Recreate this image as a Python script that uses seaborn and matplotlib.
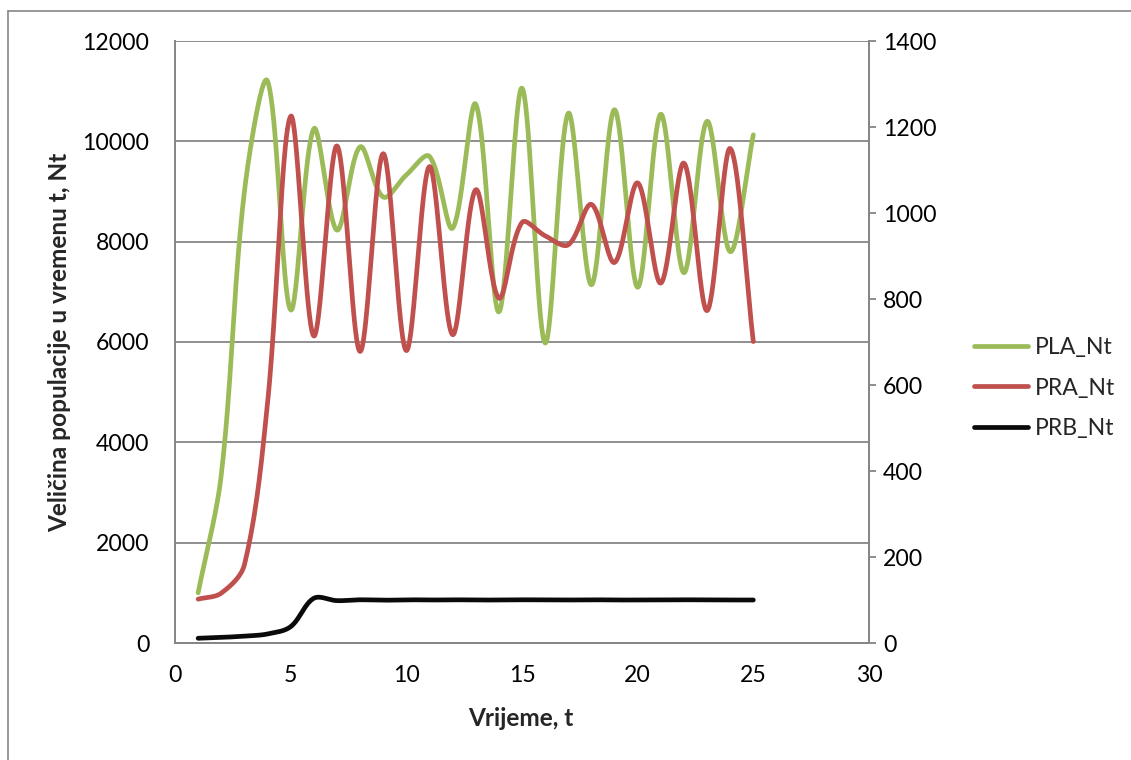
import numpy as np
import pandas as pd
import matplotlib
matplotlib.use("Agg")
import matplotlib.pyplot as plt
import seaborn as sns
from matplotlib.lines import Line2D

# ---- data ----
t = list(range(1, 26))
pla_nt = [1000, 3350, 9000, 11200, 6640, 10250, 8230, 9890, 8890, 9330,
          9700, 8270, 10740, 6600, 11060, 5980, 10560, 7140, 10630, 7090,
          10540, 7380, 10400, 7800, 10130]
pra_nt = [102, 116, 182, 558, 1225, 714, 1156, 678, 1138, 680,
          1108, 717, 1054, 802, 978, 947, 926, 1020, 885, 1070,
          837, 1116, 773, 1150, 701]
prb_nt = [11, 13, 16, 21, 38, 104, 98.5, 100.5, 99.5, 100.5,
          100, 100.5, 100, 100, 100.5, 100, 100, 100.5, 100, 100,
          100, 100.5, 100, 100, 100]
series_names = ["PLA_Nt", "PRA_Nt", "PRB_Nt"]
series_colors = ["#9BBB59", "#C0504D", "#0a0a0a"]
left_ticks = list(range(0, 12001, 2000))
right_ticks = list(range(0, 1401, 200))
x_ticks = list(range(0, 31, 5))
x_label = "Vrijeme, t"
y_label = "Veličina populacije u vremenu t, Nt"

W, H = 1131, 760
L, R, T, B = 175, 869, 41, 643


def smooth(x, y, sx, sy, n=40):
    """Excel-like smoothed line for display: Bezier segments whose control
    points are scaled by segment lengths measured in screen space."""
    P = np.column_stack([np.asarray(x, float) * sx, np.asarray(y, float) * sy])
    m = len(P)
    seg = np.hypot(*np.diff(P, axis=0).T)
    cout = np.zeros_like(P)
    cin = np.zeros_like(P)
    for i in range(m):
        prev = P[i - 1] if i > 0 else P[i]
        nxt = P[i + 1] if i < m - 1 else P[i]
        d = nxt - prev
        lp = seg[i - 1] if i > 0 else 0.0
        ln = seg[i] if i < m - 1 else 0.0
        tot = lp + ln if lp + ln > 0 else 1.0
        cout[i] = P[i] + d * (ln / tot) / 3.0
        cin[i] = P[i] - d * (lp / tot) / 3.0
    s = np.linspace(0, 1, n, endpoint=False)[:, None]
    out = []
    for i in range(m - 1):
        p1, c1, c2, p2 = P[i], cout[i], cin[i + 1], P[i + 1]
        out.append(((1 - s) ** 3) * p1 + 3 * ((1 - s) ** 2) * s * c1
                   + 3 * (1 - s) * s ** 2 * c2 + s ** 3 * p2)
    out.append(P[-1][None, :])
    arr = np.vstack(out)
    return pd.DataFrame({"t": arr[:, 0] / sx, "v": arr[:, 1] / sy})


sns.set_theme(style="white")
plt.rcParams["font.family"] = ["Lato", "DejaVu Sans"]

fig = plt.figure(figsize=(W / 100, H / 100), dpi=100)
ax = fig.add_axes([L / W, 1 - B / H, (R - L) / W, (B - T) / H])
ax2 = ax.twinx()

grid_c = "#868686"
fs = 16.6
fs_title = 17.6
lw = 3.4

x_min, x_max, yl_max, yr_max = 0, 30, 12000, 1400
sx = (R - L) / (x_max - x_min)
syl = (B - T) / yl_max
syr = (B - T) / yr_max

sns.lineplot(data=smooth(t, pla_nt, sx, syl), x="t", y="v", ax=ax,
             color=series_colors[0], lw=lw, sort=False, estimator=None,
             solid_capstyle="round")
sns.lineplot(data=smooth(t, pra_nt, sx, syr), x="t", y="v", ax=ax2,
             color=series_colors[1], lw=lw, sort=False, estimator=None,
             solid_capstyle="round")
sns.lineplot(data=smooth(t, prb_nt, sx, syr), x="t", y="v", ax=ax2,
             color=series_colors[2], lw=lw, sort=False, estimator=None,
             solid_capstyle="round")

ax.set_xlim(x_min, x_max)
ax.set_ylim(0, yl_max)
ax2.set_ylim(0, yr_max)
ax.set_xticks(x_ticks)
ax.set_yticks(left_ticks)
ax2.set_yticks(right_ticks)
ax.set_xlabel("")
ax.set_ylabel("")
ax2.set_ylabel("")

ax.yaxis.grid(True, color=grid_c, lw=1.3)
ax.xaxis.grid(False)
ax.set_axisbelow(True)
for a in (ax, ax2):
    for sp in a.spines.values():
        sp.set_color(grid_c)
        sp.set_linewidth(1.3)
    a.spines["top"].set_visible(False)
ax.tick_params(axis="x", length=0, labelsize=fs, pad=16, colors="black")
ax.tick_params(axis="y", length=0, labelsize=fs, pad=18.5, colors="black")
ax2.tick_params(axis="y", length=5, width=1.3, color=grid_c, labelsize=fs, pad=5,
                labelcolor="black")

fig.text(521 / W, 1 - 718 / H, x_label, ha="center", va="center",
         fontsize=fs_title, fontweight="bold")
fig.text(60 / W, 1 - 342 / H, y_label, ha="center", va="center", rotation=90,
         fontsize=fs_title, fontweight="bold")

handles = [Line2D([], [], color=c, lw=lw, solid_capstyle="round") for c in series_colors]
fig.legend(handles, series_names, loc="center left",
           bbox_to_anchor=(974 / W, 1 - 388 / H), frameon=False, fontsize=fs,
           handlelength=2.35, handletextpad=0.28, labelspacing=0.85,
           borderpad=0, borderaxespad=0)

# chart-area border (left and top edges visible)
fig.add_artist(Line2D([8 / W, 8 / W], [0, 1 - 11 / H], transform=fig.transFigure,
                      color=grid_c, lw=1.2))
fig.add_artist(Line2D([8 / W, 1], [1 - 11 / H, 1 - 11 / H], transform=fig.transFigure,
                      color=grid_c, lw=1.2))

fig.savefig("out.png", dpi=100)
